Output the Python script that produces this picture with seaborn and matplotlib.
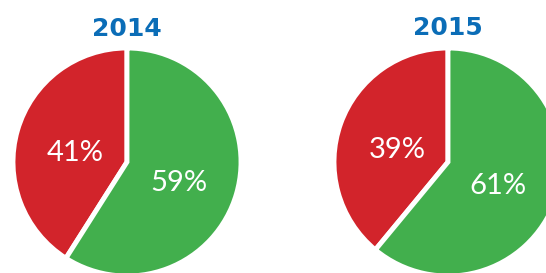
import matplotlib
matplotlib.use("Agg")
import matplotlib.pyplot as plt
import seaborn as sns

# data
years = ["2014", "2015"]
red_share = [41, 39]
green_share = [59, 61]

red = "#D2242B"
green = "#42AF4D"
blue = "#0B6DB7"

sns.set_theme(style="white")
plt.rcParams["font.family"] = ["Lato", "DejaVu Sans"]

W, H = 546, 273
fig = plt.figure(figsize=(W / 100, H / 100), dpi=100)

centers_x = [127, 448]
cy = 162
r = 114

for year, rs, gs, cx in zip(years, red_share, green_share, centers_x):
    ax = fig.add_axes([(cx - r) / W, (H - cy - r) / H, 2 * r / W, 2 * r / H])
    wedges, texts, autotexts = ax.pie(
        [rs, gs],
        colors=[red, green],
        startangle=90,
        counterclock=True,
        autopct=lambda p: f"{p:.0f}%",
        pctdistance=0.47,
        wedgeprops=dict(edgecolor="white", linewidth=3.5),
        textprops=dict(color="white", fontsize=21, fontweight="normal"),
    )
    # nudge labels slightly down so the glyphs sit where the reference has them
    for t in autotexts:
        x, y = t.get_position()
        t.set_position((x, y - 0.05))
    ax.set_xlim(-1, 1)
    ax.set_ylim(-1, 1)
    ax.set_title(year, color=blue, fontsize=18, fontweight="bold",
                 family=["DejaVu Sans"], pad=9)
    ax.axis("off")

fig.savefig("out.png", dpi=100)
